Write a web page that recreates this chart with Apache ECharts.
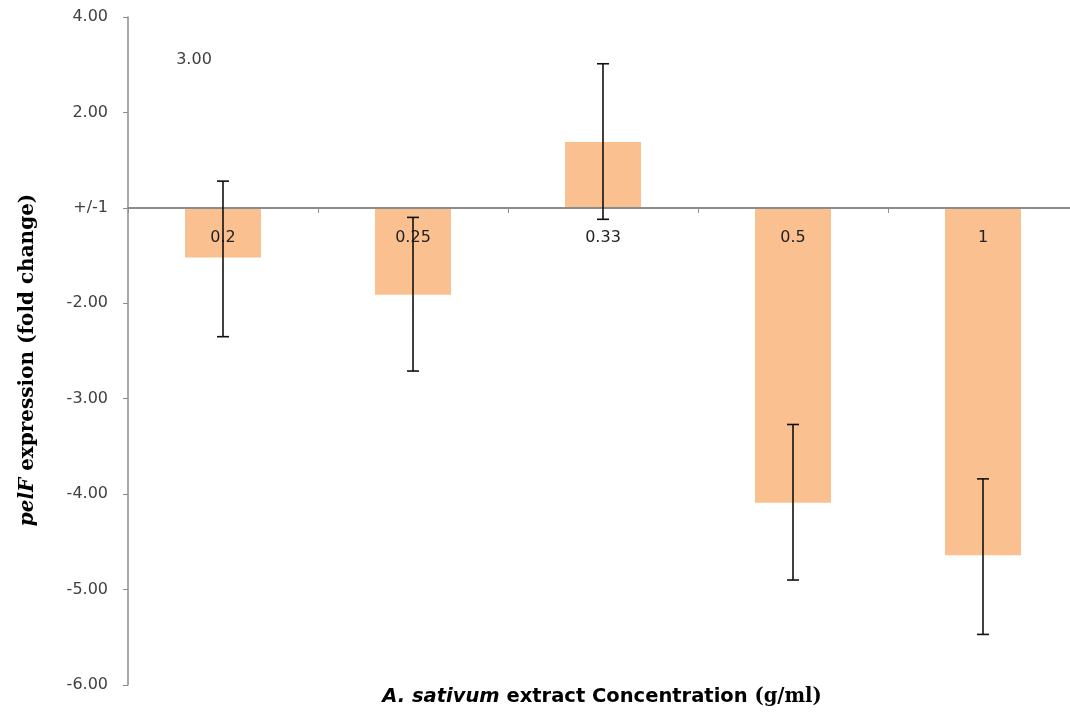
<!DOCTYPE html>
<html>
<head>
<meta charset="utf-8">
<script src="https://cdn.jsdelivr.net/npm/echarts@6/dist/echarts.min.js"></script>
<style>
html,body{margin:0;padding:0;background:#fff;}
#chart{width:1070px;height:717px;}
</style>
</head>
<body>
<div id="chart"></div>
<script>
// Categories (extract concentration, g/ml)
const categories = ['0.2', '0.25', '0.33', '0.5', '1'];
// Bar values on the chart's internal scale (0 = the "+/-1" line)
const values = [-0.52, -0.91, 0.69, -3.09, -3.64];
// Error bar ends
const errLow = [-1.35, -1.71, -0.12, -3.90, -4.47];
const errHigh = [0.28, -0.10, 1.51, -2.27, -2.84];
// Y-axis tick positions and their printed labels
const yTickValues = [2, 1, 0, -1, -2, -3, -4, -5];
const yTickLabels = ['4.00', '2.00', '+/-1', '-2.00', '-3.00', '-4.00', '-5.00', '-6.00'];
// Stray label shown inside the plot
const strayLabel = '3.00';

const chart = echarts.init(document.getElementById('chart'), null, {renderer: 'canvas'});

const errData = categories.map((c, i) => [i, errLow[i], errHigh[i]]);
const catLabelData = categories.map((c, i) => [i, 0, c]);

const option = {
  animation: false,
  backgroundColor: '#ffffff',
  grid: {left: 128, top: 17, width: 950, height: 668, containLabel: false, outerBoundsMode: 'none'},
  xAxis: {
    type: 'category',
    data: categories,
    z: 3,
    axisLine: {onZero: true, lineStyle: {color: '#8c8c8c', width: 2}},
    axisTick: {show: true, length: 5, inside: false, alignWithLabel: false, lineStyle: {color: '#8c8c8c', width: 1}},
    axisLabel: {show: false},
    splitLine: {show: false}
  },
  yAxis: {
    type: 'value',
    min: -5, max: 2, interval: 1,
    axisLine: {show: true, onZero: false, lineStyle: {color: '#8c8c8c', width: 1.5}},
    axisTick: {show: true, length: 5, lineStyle: {color: '#8c8c8c'}},
    axisLabel: {
      margin: 20, fontFamily: 'DejaVu Sans', fontSize: 16, color: '#404040',
      formatter: function (v) {
        const k = yTickValues.indexOf(Math.round(v));
        return k >= 0 ? yTickLabels[k] : '';
      }
    },
    splitLine: {show: false}
  },
  graphic: [
    {
      type: 'text', x: 194, y: 60, z: 10,
      style: {text: strayLabel, align: 'center', verticalAlign: 'middle', fontFamily: 'DejaVu Sans', fontSize: 16, fill: '#404040'}
    },
    {
      type: 'text', x: 28, y: 360, rotation: Math.PI / 2, z: 10,
      style: {
        text: '{i|pelF}{n| expression (fold change)}',
        align: 'center', verticalAlign: 'middle',
        rich: {
          i: {fontFamily: 'DejaVu Serif', fontWeight: 'bold', fontStyle: 'italic', fontSize: 20, fill: '#000'},
          n: {fontFamily: 'DejaVu Serif', fontWeight: 'bold', fontSize: 20, fill: '#000'}
        }
      }
    },
    {
      type: 'text', x: 602, y: 697, z: 10,
      style: {
        text: '{i|A. sativum}{b| extract Concentration }{s|(g/ml)}',
        align: 'center', verticalAlign: 'middle',
        rich: {
          i: {fontFamily: 'DejaVu Sans', fontWeight: 'bold', fontStyle: 'italic', fontSize: 19.5, fill: '#000'},
          b: {fontFamily: 'DejaVu Sans', fontWeight: 'bold', fontSize: 19.5, fill: '#000'},
          s: {fontFamily: 'DejaVu Serif', fontWeight: 'bold', fontSize: 19.5, fill: '#000'}
        }
      }
    }
  ],
  series: [
    {
      type: 'bar',
      data: values,
      barWidth: '40%',
      itemStyle: {color: '#FAC090'},
      z: 2
    },
    {
      type: 'custom',
      z: 4,
      data: catLabelData,
      renderItem: function (params, api) {
        const p = api.coord([api.value(0), 0]);
        return {
          type: 'text',
          x: p[0], y: p[1] + 30,
          style: {text: categories[params.dataIndex], align: 'center', verticalAlign: 'middle',
                  fontFamily: 'DejaVu Sans', fontSize: 16, fill: '#222'}
        };
      }
    },
    {
      type: 'custom',
      z: 5,
      data: errData,
      renderItem: function (params, api) {
        const i = api.value(0);
        const lo = api.coord([i, api.value(1)]);
        const hi = api.coord([i, api.value(2)]);
        const cap = 6;
        const st = {stroke: '#111', lineWidth: 1.6};
        return {
          type: 'group',
          children: [
            {type: 'line', shape: {x1: lo[0], y1: lo[1], x2: hi[0], y2: hi[1]}, style: st},
            {type: 'line', shape: {x1: lo[0] - cap, y1: lo[1], x2: lo[0] + cap, y2: lo[1]}, style: st},
            {type: 'line', shape: {x1: hi[0] - cap, y1: hi[1], x2: hi[0] + cap, y2: hi[1]}, style: st}
          ]
        };
      }
    }
  ]
};
chart.setOption(option);
</script>
</body>
</html>
